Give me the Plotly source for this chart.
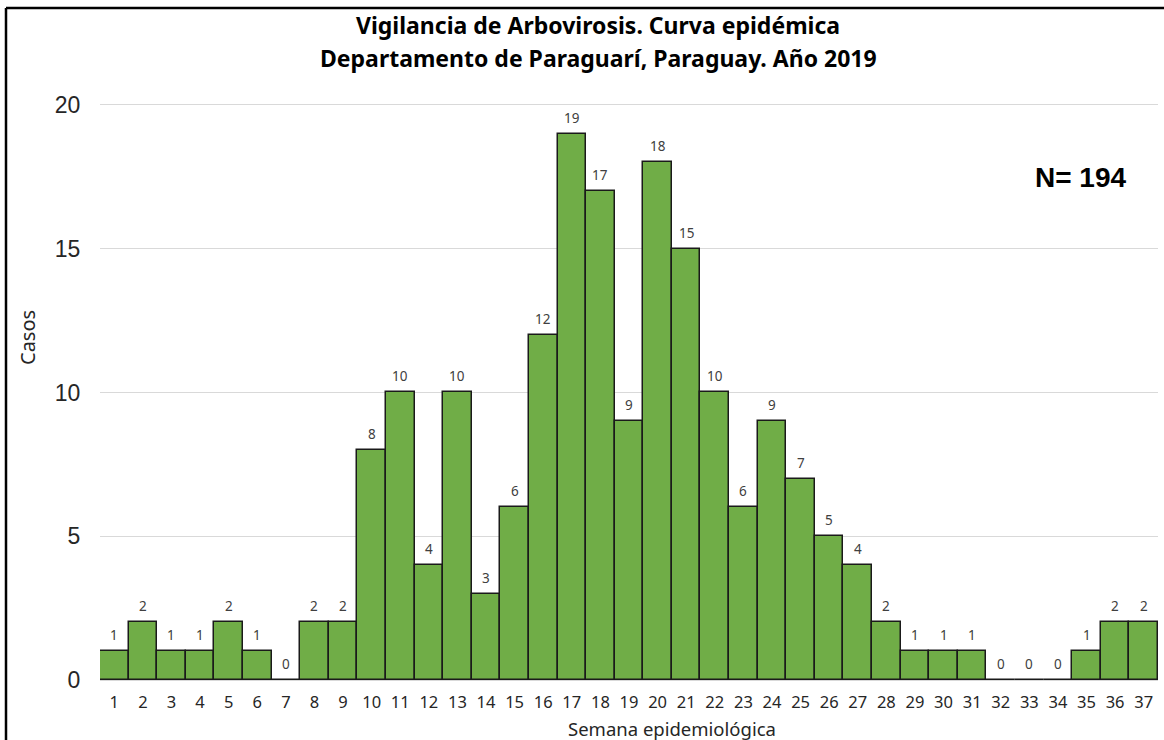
import plotly.graph_objects as go

semanas = list(range(1, 38))
casos = [1, 2, 1, 1, 2, 1, 0, 2, 2, 8, 10, 4, 10, 3, 6, 12, 19, 17, 9, 18,
         15, 10, 6, 9, 7, 5, 4, 2, 1, 1, 1, 0, 0, 0, 1, 2, 2]
tick_labels = [str(s) for s in semanas]
title_line1 = "Vigilancia de Arbovirosis. Curva epidémica"
title_line2 = "Departamento de Paraguarí, Paraguay. Año 2019"
total_label = "N= 194"

W, H = 1164, 740
L, R, T, B = 100, 6, 100, 60
pw, ph = W - L - R, H - T - B

def px_x(p):
    return (p - L) / pw

def px_y(p):
    return (H - B - p) / ph

fig = go.Figure()
fig.add_trace(go.Bar(
    x=semanas, y=casos, width=1.0,
    marker=dict(color="#70AD47", line=dict(color="#1a1a1a", width=1.5)),
    hoverinfo="x+y", showlegend=False,
))

annotations = []
for s, c in zip(semanas, casos):
    annotations.append(dict(
        x=s, y=c, xref="x", yref="y", text=str(c), showarrow=False,
        yanchor="bottom", yshift=5,
        font=dict(family="Noto Sans, Open Sans, sans-serif", size=13.5, color="#404040"),
    ))

annotations += [
    dict(x=px_x(598), y=px_y(25), xref="paper", yref="paper", text=f"<b>{title_line1}</b>",
         showarrow=False, xanchor="center", yanchor="middle",
         font=dict(family="Noto Sans, Open Sans, sans-serif", size=23, color="#000")),
    dict(x=px_x(598), y=px_y(58), xref="paper", yref="paper", text=f"<b>{title_line2}</b>",
         showarrow=False, xanchor="center", yanchor="middle",
         font=dict(family="Noto Sans, Open Sans, sans-serif", size=23, color="#000")),
    dict(x=px_x(1080), y=px_y(177), xref="paper", yref="paper", text=f"<b>{total_label}</b>",
         showarrow=False, xanchor="center", yanchor="middle",
         font=dict(family="Liberation Sans, Arial, sans-serif", size=28, color="#000")),
    dict(x=px_x(672), y=px_y(728), xref="paper", yref="paper", text="Semana epidemiológica",
         showarrow=False, xanchor="center", yanchor="middle",
         font=dict(family="Noto Sans, Open Sans, sans-serif", size=18.5, color="#262626")),
    dict(x=px_x(27), y=px_y(338), xref="paper", yref="paper", text="Casos", textangle=-90,
         showarrow=False, xanchor="center", yanchor="middle",
         font=dict(family="Noto Sans, Open Sans, sans-serif", size=20, color="#262626")),
]

xl = px_x(6)
yt = px_y(8)
shapes = [
    dict(type="line", xref="paper", yref="paper", x0=xl, x1=xl, y0=yt, y1=px_y(760),
         line=dict(color="#000", width=2.5)),
    dict(type="line", xref="paper", yref="paper", x0=xl, x1=px_x(1180), y0=yt, y1=yt,
         line=dict(color="#000", width=2.5)),
]

fig.update_layout(
    width=W, height=H,
    margin=dict(l=L, r=R, t=T, b=B),
    paper_bgcolor="white", plot_bgcolor="white",
    bargap=0,
    annotations=annotations,
    shapes=shapes,
    xaxis=dict(
        range=[0.5, 37.5], tickmode="array", tickvals=semanas, ticktext=tick_labels,
        showgrid=False, zeroline=False, showline=False,
        ticks="outside", ticklen=7, tickcolor="rgba(0,0,0,0)",
        tickfont=dict(family="Noto Sans, Open Sans, sans-serif", size=16.5, color="#262626"),
    ),
    yaxis=dict(
        range=[0, 20.17], tickvals=[0, 5, 10, 15, 20],
        showgrid=True, gridcolor="#d9d9d9", gridwidth=1,
        zeroline=True, zerolinecolor="#d9d9d9", zerolinewidth=2,
        showline=False, ticks="outside", ticklen=14, tickcolor="rgba(0,0,0,0)",
        tickfont=dict(family="Liberation Sans, Arial, sans-serif", size=23, color="#262626"),
    ),
)

fig.write_html(
    "out.html",
    config={"displayModeBar": False},
    post_script="document.body.style.margin='0';document.body.style.overflow='hidden';",
)
